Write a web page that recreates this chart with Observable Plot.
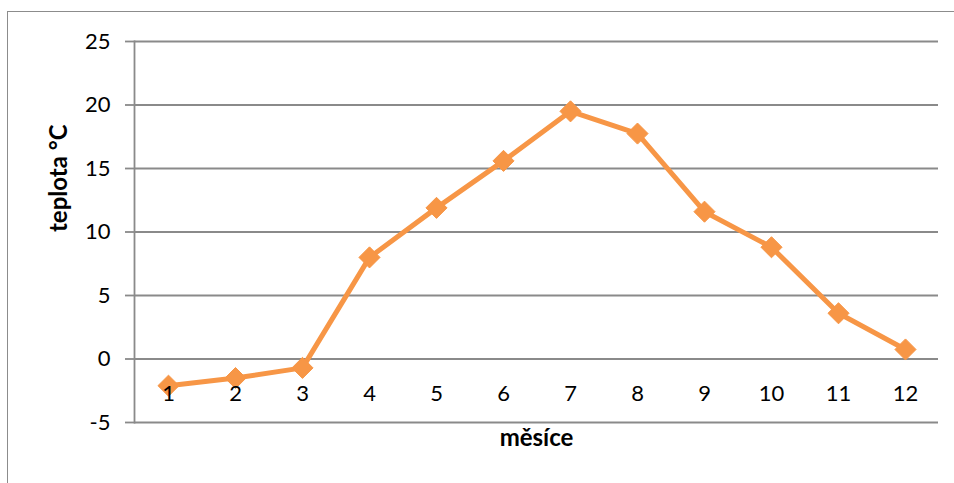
<!DOCTYPE html>
<html>
<head>
<meta charset="utf-8">
<script src="https://cdn.jsdelivr.net/npm/d3@7"></script>
<script src="https://cdn.jsdelivr.net/npm/@observablehq/plot@0.6"></script>
<style>
  html, body { margin: 0; padding: 0; background: #fff; }
  #wrap { position: relative; width: 954px; height: 483px; overflow: hidden; }
  #frame { position: absolute; left: 7px; top: 11px; width: 2000px; height: 2000px;
           border-left: 1.5px solid #8c8c8c; border-top: 1.5px solid #8c8c8c; }
  #chart { position: absolute; left: 0; top: 0; }
</style>
</head>
<body>
<div id="wrap"><div id="frame"></div><div id="chart"></div></div>
<script>
const months = [1, 2, 3, 4, 5, 6, 7, 8, 9, 10, 11, 12];
const temps = [-2.1, -1.5, -0.7, 8.0, 11.9, 15.6, 19.5, 17.75, 11.6, 8.8, 3.6, 0.75];
const yTicks = [-5, 0, 5, 10, 15, 20, 25];
const yLabel = "teplota °C";
const xLabel = "měsíce";

const data = months.map((m, i) => ({month: m, temp: temps[i]}));
const font = "Lato, 'Open Sans', sans-serif";
const orange = "#F79646";
const gray = "#8a8a8a";

const chart = Plot.plot({
  width: 954,
  height: 483,
  marginLeft: 134,
  marginRight: 16,
  marginTop: 41,
  marginBottom: 61,
  style: {fontFamily: font, fontSize: "22px", color: "#000", background: "transparent"},
  x: {type: "point", domain: months, padding: 0.5, axis: null},
  y: {domain: [-5, 25], axis: null},
  marks: [
    Plot.ruleY(yTicks, {stroke: gray, strokeWidth: 1.8}),
    Plot.axisY({ticks: yTicks, tickSize: 9, tickPadding: 15, tickFormat: d => String(d), stroke: gray, strokeWidth: 1.8, strokeOpacity: 1, label: null, fontSize: 22, fill: "#000"}),
    Plot.frame({anchor: "left", stroke: gray, strokeWidth: 1.8}),
    Plot.line(data, {x: "month", y: "temp", stroke: orange, strokeWidth: 5, strokeLinejoin: "round"}),
    Plot.dot(data, {x: "month", y: "temp", symbol: "diamond2", r: 9.5, fill: orange, stroke: orange, strokeWidth: 1}),
    Plot.text(months, {x: d => d, y: 0, dy: 35, text: d => String(d), fill: "#000", fontSize: 22}),
    Plot.text([yLabel], {frameAnchor: "left", dx: -75, rotate: -90, fontWeight: "bold", fontSize: 24, fill: "#000"}),
    Plot.text([xLabel], {frameAnchor: "bottom", dy: 23, fontWeight: "bold", fontSize: 24, fill: "#000"})
  ]
});
document.getElementById("chart").appendChild(chart);
</script>
</body>
</html>
